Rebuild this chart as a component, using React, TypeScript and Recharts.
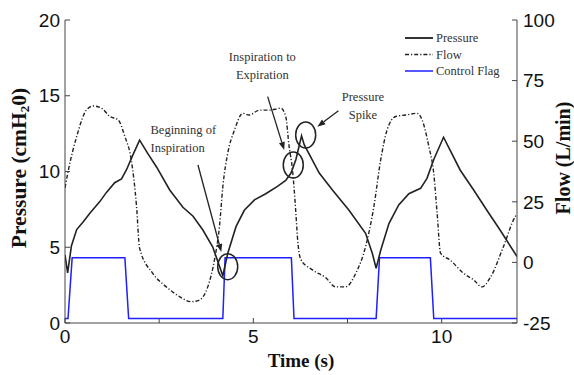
import React from 'react';
import { LineChart, Line, XAxis, YAxis, ReferenceDot, ReferenceLine, Legend } from 'recharts';

// ---- data ----
const pressureTime = [0, 0.07, 0.17, 0.31, 0.48, 0.66, 0.93, 1.1, 1.32, 1.5, 1.63, 1.8, 1.98, 2.2, 2.43, 2.78, 3.13, 3.4, 3.66, 3.92, 4.19, 4.32, 4.54, 4.76, 5.03, 5.33, 5.64, 5.86, 6.0, 6.13, 6.28, 6.35, 6.75, 7.1, 7.54, 7.98, 8.16, 8.26, 8.38, 8.6, 8.86, 9.13, 9.44, 9.61, 9.79, 10.05, 10.23, 10.49, 10.85, 11.2, 11.55, 12];
const pressureValues = [4.49, 3.31, 5.08, 6.17, 6.66, 7.25, 8.03, 8.62, 9.26, 9.51, 10.1, 11.08, 12.07, 11.18, 10.3, 8.78, 7.64, 7.05, 6.14, 5.03, 3.12, 4.59, 6.36, 7.44, 8.13, 8.53, 9.02, 9.41, 9.9, 10.79, 12.36, 11.77, 9.9, 8.78, 7.44, 5.92, 4.59, 3.61, 4.79, 6.56, 7.79, 8.53, 8.89, 9.55, 10.79, 12.26, 11.38, 10.1, 8.78, 7.44, 6.14, 4.39];

const flowTime = [0, 0.09, 0.31, 0.57, 0.75, 0.97, 1.19, 1.41, 1.59, 1.76, 1.9, 1.98, 2.33, 2.69, 3.04, 3.35, 3.57, 3.79, 3.97, 4.1, 4.19, 4.32, 4.5, 4.72, 4.89, 5.16, 5.42, 5.73, 5.86, 5.95, 6.04, 6.13, 6.17, 6.26, 6.57, 6.92, 7.19, 7.45, 7.72, 7.98, 8.2, 8.38, 8.55, 8.78, 9.04, 9.35, 9.48, 9.66, 9.79, 9.88, 9.97, 10.23, 10.58, 10.85, 11.07, 11.29, 11.64, 11.95, 12];
const flowValues = [30.7, 38.1, 51.9, 62.9, 64.5, 63.6, 60.2, 58.8, 51.9, 42.2, 23.0, 5.9, -4.5, -10.1, -14.1, -16.2, -15.5, -10.1, 1.2, 14.7, 31.2, 45.0, 54.6, 61.5, 60.8, 62.8, 62.8, 63.6, 60.2, 47.8, 38.1, 20.2, 10.6, 1.2, -3.1, -6.3, -10.1, -10.1, -4.5, 6.5, 23.0, 42.2, 54.6, 60.2, 60.8, 61.5, 58.8, 47.8, 36.7, 20.2, 3.8, 0.9, -4.5, -7.2, -10.1, -6.3, 6.5, 18.8, 19.9];

const flagTime = [0, 0.08, 0.19, 1.59, 1.69, 4.19, 4.25, 6.01, 6.08, 8.26, 8.35, 9.7, 9.79, 12];
const flagValues = [0.3, 0.3, 4.3, 4.3, 0.3, 0.3, 4.3, 4.3, 0.3, 0.3, 4.3, 4.3, 0.3, 0.3];

const timeTicks = [0, 2.5, 5, 7.5, 10];
const pressureTicks = [0, 5, 10, 15, 20];
const flowTicks = [-25, 0, 25, 50, 75, 100];

const seriesNames = ['Pressure', 'Flow', 'Control Flag'];

// annotations (data coordinates: time, pressure)
const noteTexts = [
  { t: 2.27, p: 12.74, text: 'Beginning of', anchor: 'start' },
  { t: 2.27, p: 11.55, text: 'Inspiration', anchor: 'start' },
  { t: 5.24, p: 17.56, text: 'Inspiration to', anchor: 'middle' },
  { t: 5.24, p: 16.37, text: 'Expiration', anchor: 'middle' },
  { t: 7.91, p: 14.92, text: 'Pressure', anchor: 'middle' },
  { t: 7.91, p: 13.73, text: 'Spike', anchor: 'middle' },
];
const noteCircles = [
  { t: 4.32, p: 3.72 },
  { t: 6.06, p: 10.43 },
  { t: 6.39, p: 12.41 },
];
const noteArrows = [
  { t1: 3.53, p1: 10.43, t2: 4.15, p2: 4.69 },
  { t1: 5.38, p1: 14.94, t2: 5.82, p2: 11.42 },
  { t1: 7.26, p1: 14.01, t2: 6.7, p2: 12.96 },
];

const pressureData = pressureTime.map((t, i) => ({ t, pressure: pressureValues[i] }));
const flowData = flowTime.map((t, i) => ({ t, flow: flowValues[i] }));
const flagData = flagTime.map((t, i) => ({ t, flag: flagValues[i] }));

const SERIF = '"Liberation Serif", "Times New Roman", serif';
const SANS = '"Liberation Sans", Arial, sans-serif';
const FLOW_DASH = '4 2 1.2 2';

const seriesStyles = [
  { stroke: '#333', width: 2, dash: undefined as string | undefined },
  { stroke: '#222', width: 1.4, dash: FLOW_DASH },
  { stroke: '#1f1fff', width: 1.5, dash: undefined as string | undefined },
];

const ArrowShape = (props: any) => {
  const { x1, y1, x2, y2 } = props;
  const dx = x2 - x1;
  const dy = y2 - y1;
  const len = Math.sqrt(dx * dx + dy * dy) || 1;
  const ux = dx / len;
  const uy = dy / len;
  const hl = 8;
  const hw = 3;
  const bx = x2 - ux * hl;
  const by = y2 - uy * hl;
  const pts = `${x2},${y2} ${bx - uy * hw},${by + ux * hw} ${bx + uy * hw},${by - ux * hw}`;
  return (
    <g>
      <line x1={x1} y1={y1} x2={bx} y2={by} stroke="#222" strokeWidth={1.3} />
      <polygon points={pts} fill="#222" />
    </g>
  );
};

const PressureLabel = (props: any) => {
  const vb = props.viewBox || { x: 5, y: 20, width: 60, height: 303 };
  const cx = vb.x + 14;
  const cy = vb.y + 148;
  return (
    <text
      x={cx}
      y={cy}
      transform={`rotate(-90, ${cx}, ${cy})`}
      textAnchor="middle"
      dominantBaseline="central"
      fontFamily={SERIF}
      fontWeight="bold"
      fontSize={21.5}
      fill="#111"
    >
      Pressure (cmH<tspan dy={5} fontSize={13}>2</tspan>
      <tspan dy={-5}>0)</tspan>
    </text>
  );
};

const FlowLabel = (props: any) => {
  const vb = props.viewBox || { x: 517, y: 20, width: 52, height: 303 };
  const cx = vb.x + 46;
  const cy = vb.y + 138;
  return (
    <text
      x={cx}
      y={cy}
      transform={`rotate(-90, ${cx}, ${cy})`}
      textAnchor="middle"
      dominantBaseline="central"
      fontFamily={SERIF}
      fontWeight="bold"
      fontSize={20}
      fill="#111"
    >
      Flow (L/min)
    </text>
  );
};

const TimeLabel = (props: any) => {
  const vb = props.viewBox || { x: 65, y: 323, width: 452, height: 46 };
  return (
    <text
      x={vb.x + vb.width / 2 + 10}
      y={vb.y + 37}
      textAnchor="middle"
      dominantBaseline="central"
      fontFamily={SERIF}
      fontWeight="bold"
      fontSize={19}
      fill="#111"
    >
      Time (s)
    </text>
  );
};

const LegendContent = () => (
  <svg width={140} height={60} style={{ display: 'block' }}>
    {seriesNames.map((name, i) => {
      const y = 9 + i * 16.5;
      const s = seriesStyles[i];
      return (
        <g key={name}>
          <line x1={4} y1={y} x2={32} y2={y} stroke={s.stroke} strokeWidth={s.width} strokeDasharray={s.dash} />
          <text x={35} y={y} dominantBaseline="central" fontFamily={SERIF} fontSize={12.5} fill="#333">
            {name}
          </text>
        </g>
      );
    })}
  </svg>
);

export default function App() {
  const tickStyle = { fill: '#111', fontSize: 19, fontFamily: SANS };
  return (
    <div style={{ position: 'absolute', left: 0, top: 0, width: 574, height: 375, background: '#fff' }}>
      <LineChart width={574} height={375} margin={{ top: 20, right: 5, bottom: 6, left: 5 }}>
        <XAxis
          xAxisId="bottom"
          dataKey="t"
          type="number"
          domain={[0, 12]}
          ticks={timeTicks}
          allowDataOverflow
          tickFormatter={(v: number) => (v % 5 === 0 ? String(v) : '')}
          tick={tickStyle}
          tickSize={-5}
          tickMargin={12}
          height={46}
          stroke="#444"
          axisLine={{ stroke: '#444' }}
          tickLine={{ stroke: '#444' }}
          label={<TimeLabel />}
        />
        <XAxis
          xAxisId="top"
          orientation="top"
          dataKey="t"
          type="number"
          domain={[0, 12]}
          ticks={timeTicks}
          allowDataOverflow
          tickFormatter={() => ''}
          tickSize={-5}
          height={0}
          axisLine={{ stroke: '#444' }}
          tickLine={{ stroke: '#444' }}
        />
        <YAxis
          yAxisId="left"
          type="number"
          domain={[0, 20]}
          ticks={pressureTicks}
          allowDataOverflow
          width={60}
          tick={tickStyle}
          tickSize={-5}
          tickMargin={10}
          axisLine={{ stroke: '#444' }}
          tickLine={{ stroke: '#444' }}
          label={<PressureLabel />}
        />
        <YAxis
          yAxisId="right"
          orientation="right"
          type="number"
          domain={[-25, 100]}
          ticks={flowTicks}
          allowDataOverflow
          width={52}
          tick={tickStyle}
          tickSize={-5}
          tickMargin={11}
          axisLine={{ stroke: '#444' }}
          tickLine={{ stroke: '#444' }}
          label={<FlowLabel />}
        />
        <Legend
          layout="horizontal"
          verticalAlign="middle"
          align="center"
          content={<LegendContent />}
          wrapperStyle={{ left: 401, top: 29, width: 140, height: 60 }}
        />
        <Line
          xAxisId="bottom"
          yAxisId="left"
          data={flagData}
          dataKey="flag"
          name={seriesNames[2]}
          type="linear"
          stroke={seriesStyles[2].stroke}
          strokeWidth={1.5}
          dot={false}
          activeDot={false}
          isAnimationActive={false}
        />
        <Line
          xAxisId="bottom"
          yAxisId="right"
          data={flowData}
          dataKey="flow"
          name={seriesNames[1]}
          type="monotone"
          stroke={seriesStyles[1].stroke}
          strokeWidth={1.4}
          strokeDasharray={FLOW_DASH}
          dot={false}
          activeDot={false}
          isAnimationActive={false}
        />
        <Line
          xAxisId="bottom"
          yAxisId="left"
          data={pressureData}
          dataKey="pressure"
          name={seriesNames[0]}
          type="linear"
          stroke="#222"
          strokeWidth={1.6}
          dot={false}
          activeDot={false}
          isAnimationActive={false}
        />
        {noteArrows.map((a, i) => (
          <ReferenceLine
            key={`arrow-${i}`}
            xAxisId="bottom"
            yAxisId="left"
            segment={[{ x: a.t1, y: a.p1 }, { x: a.t2, y: a.p2 }]}
            shape={ArrowShape}
            ifOverflow="visible"
          />
        ))}
        {noteCircles.map((c, i) => (
          <ReferenceDot
            key={`circle-${i}`}
            xAxisId="bottom"
            yAxisId="left"
            x={c.t}
            y={c.p}
            r={1}
            ifOverflow="visible"
            shape={(props: any) => (
              <ellipse cx={props.cx} cy={props.cy} rx={10} ry={13} fill="none" stroke="#222" strokeWidth={1.5} />
            )}
          />
        ))}
        {noteTexts.map((n, i) => (
          <ReferenceDot
            key={`text-${i}`}
            xAxisId="bottom"
            yAxisId="left"
            x={n.t}
            y={n.p}
            r={1}
            ifOverflow="visible"
            shape={(props: any) => (
              <text
                x={props.cx}
                y={props.cy}
                textAnchor={n.anchor as any}
                dominantBaseline="central"
                fontFamily={SERIF}
                fontSize={12.5}
                fill="#333"
              >
                {n.text}
              </text>
            )}
          />
        ))}
      </LineChart>
    </div>
  );
}
